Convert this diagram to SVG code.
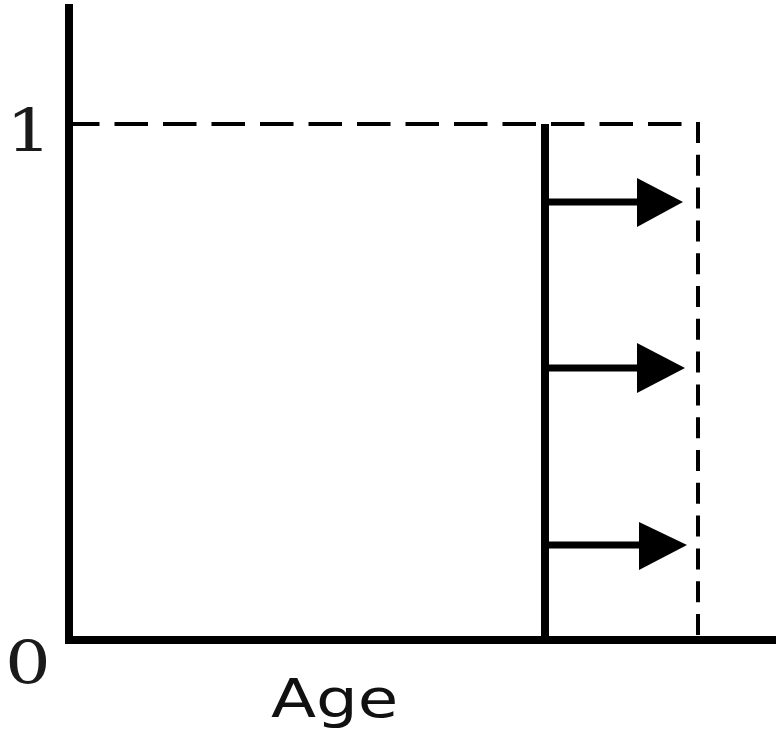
<svg xmlns="http://www.w3.org/2000/svg" width="776" height="736" viewBox="0 0 776 736">
  <defs>
    <style>
      .axis { stroke: #000; stroke-width: 8; fill: none; }
      .guide { stroke: #000; stroke-width: 4; fill: none; }
      .shaft { stroke: #000; stroke-width: 7; fill: none; }
      .head { fill: #000; }
      .tick { font-family: "DejaVu Serif", "Liberation Serif", serif; font-size: 60px; fill: #1a1a1a; }
      .label { font-family: "DejaVu Sans", "Liberation Sans", sans-serif; font-size: 54px; fill: #111; }
    </style>
  </defs>
  <rect width="776" height="736" fill="#fff"/>

  <!-- axes -->
  <g id="axes">
    <line class="axis" x1="69" y1="4" x2="69" y2="644"/>
    <line class="axis" x1="65" y1="640" x2="776" y2="640"/>
  </g>

  <!-- dashed bounds at value 1 -->
  <g id="bounds">
    <line class="guide" x1="66" y1="124" x2="698" y2="124" stroke-dasharray="33.5 15"/>
    <line class="guide" x1="698" y1="122" x2="698" y2="640" stroke-dasharray="21 11.8"/>
  </g>

  <!-- vertical boundary -->
  <g id="boundary">
    <line class="axis" x1="545" y1="124" x2="545" y2="640"/>
  </g>

  <!-- shift arrows -->
  <g id="connectors">
    <line class="shaft" x1="545" y1="202" x2="640" y2="202"/>
    <polygon class="head" points="637,178 683,202 637,227"/>
    <line class="shaft" x1="545" y1="368" x2="640" y2="368"/>
    <polygon class="head" points="637,343 685,368 637,393"/>
    <line class="shaft" x1="545" y1="545" x2="642" y2="545"/>
    <polygon class="head" points="639,522 687,545 639,570"/>
  </g>

  <!-- labels -->
  <g id="labels">
    <text class="tick" transform="translate(6,152) scale(1.2,1)">1</text>
    <text class="tick" transform="translate(5,684) scale(1.2,1)">0</text>
    <text class="label" transform="translate(271,717) scale(1.22,1)">Age</text>
  </g>
</svg>
